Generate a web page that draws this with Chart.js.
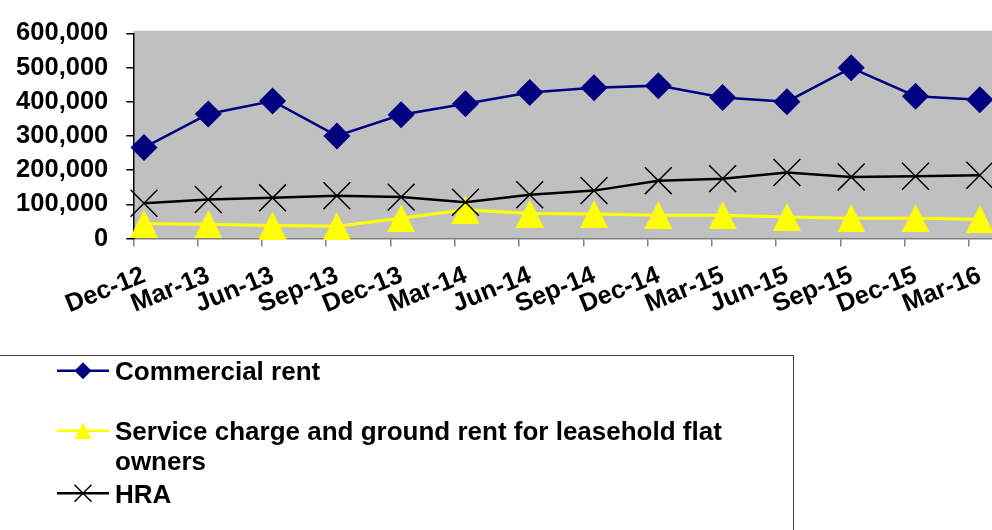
<!DOCTYPE html>
<html>
<head>
<meta charset="utf-8">
<script src="https://cdn.jsdelivr.net/npm/chart.js@4.4.1/dist/chart.umd.min.js"></script>
<style>
  html, body { margin: 0; padding: 0; background: #fff; }
  #wrap { width: 992px; height: 530px; }
</style>
</head>
<body>
<div id="wrap"><canvas id="chart" width="992" height="530"></canvas></div>
<script>
const quarters = ['Dec-12', 'Mar-13', 'Jun-13', 'Sep-13', 'Dec-13', 'Mar-14', 'Jun-14', 'Sep-14', 'Dec-14', 'Mar-15', 'Jun-15', 'Sep-15', 'Dec-15', 'Mar-16'];
const commercialRent = [266000, 364000, 402000, 300000, 362000, 394000, 427000, 441000, 447000, 412000, 400000, 499000, 416000, 406000];
const serviceCharge = [43000, 42000, 38000, 36000, 59000, 84000, 73000, 72000, 68000, 68000, 63000, 59000, 59000, 56000];
const hra = [103000, 114000, 119000, 125000, 121000, 106000, 128000, 140000, 169000, 175000, 193000, 180000, 182000, 185000];
const yTicks = [0, 100000, 200000, 300000, 400000, 500000, 600000];
const seriesNames = ['Commercial rent', 'Service charge and ground rent for leasehold flat owners', 'HRA'];

const FONT = '"Liberation Sans", Arial, sans-serif';
const NAVY = '#000080';
const YELLOW = '#ffff00';
const BLACK = '#000000';

// Excel-ish triangle marker (as wide as it is tall)
function triangleImage(w, h, color) {
  const c = document.createElement('canvas');
  c.width = w; c.height = h;
  const g = c.getContext('2d');
  g.fillStyle = color;
  g.beginPath();
  g.moveTo(w / 2, 0);
  g.lineTo(w, h);
  g.lineTo(0, h);
  g.closePath();
  g.fill();
  return c;
}

// grey plot area
const plotBackground = {
  id: 'plotBackground',
  beforeDraw(chart) {
    const { ctx, chartArea: a } = chart;
    ctx.save();
    ctx.fillStyle = '#c0c0c0';
    ctx.fillRect(a.left, a.top - 2.5, a.right - a.left, a.bottom - a.top + 2.5);
    ctx.restore();
  }
};

function wrapText(ctx, text, maxWidth) {
  const words = text.split(' ');
  const lines = [];
  let line = '';
  words.forEach(w => {
    const test = line ? line + ' ' + w : w;
    if (ctx.measureText(test).width > maxWidth && line) {
      lines.push(line);
      line = w;
    } else {
      line = test;
    }
  });
  if (line) lines.push(line);
  return lines;
}

// boxed legend below the chart, like the Excel one
const boxLegend = {
  id: 'boxLegend',
  afterDraw(chart) {
    const ctx = chart.ctx;
    const rows = [370.7, 430.7, 493.3];
    ctx.save();
    ctx.strokeStyle = '#404040';
    ctx.lineWidth = 1;
    ctx.strokeRect(-1, 355.5, 794.5, 220);

    ctx.font = 'bold 26px ' + FONT;
    ctx.fillStyle = '#000';
    ctx.textBaseline = 'alphabetic';
    chart.data.datasets.forEach((ds, i) => {
      const y = rows[i];
      ctx.strokeStyle = ds.borderColor;
      ctx.lineWidth = 2.5;
      ctx.beginPath();
      ctx.moveTo(57, y);
      ctx.lineTo(109, y);
      ctx.stroke();

      const cx = 83;
      ctx.fillStyle = ds.borderColor;
      if (ds.legendMarker === 'diamond') {
        ctx.beginPath();
        ctx.moveTo(cx, y - 8.5); ctx.lineTo(cx + 8.5, y); ctx.lineTo(cx, y + 8.5); ctx.lineTo(cx - 8.5, y);
        ctx.closePath(); ctx.fill();
      } else if (ds.legendMarker === 'triangle') {
        ctx.drawImage(triangleImage(17, 17, ds.borderColor), cx - 8.5, y - 8.5);
      } else {
        ctx.lineWidth = 1.5;
        ctx.beginPath();
        ctx.moveTo(cx - 8.5, y - 8.5); ctx.lineTo(cx + 8.5, y + 8.5);
        ctx.moveTo(cx + 8.5, y - 8.5); ctx.lineTo(cx - 8.5, y + 8.5);
        ctx.stroke();
      }

      ctx.fillStyle = '#000';
      wrapText(ctx, ds.label, 675).forEach((ln, k) => {
        ctx.fillText(ln, 115, y + 9.5 + k * 30);
      });
    });
    ctx.restore();
  }
};

new Chart(document.getElementById('chart'), {
  type: 'line',
  data: {
    datasets: [
      {
        label: seriesNames[0],
        data: commercialRent.map((v, i) => ({ x: i, y: v })),
        borderColor: NAVY, backgroundColor: NAVY, borderWidth: 2.5,
        pointStyle: 'rectRot', pointRadius: 13.5, pointBorderWidth: 0,
        pointBackgroundColor: NAVY, legendMarker: 'diamond', order: 2
      },
      {
        label: seriesNames[1],
        data: serviceCharge.map((v, i) => ({ x: i, y: v })),
        borderColor: YELLOW, backgroundColor: YELLOW, borderWidth: 3,
        pointStyle: triangleImage(28, 28, YELLOW), pointRadius: 14,
        legendMarker: 'triangle', order: 1
      },
      {
        label: seriesNames[2],
        data: hra.map((v, i) => ({ x: i, y: v })),
        borderColor: BLACK, backgroundColor: BLACK, borderWidth: 2.5,
        pointStyle: 'crossRot', pointRadius: 19, pointBorderWidth: 1.5,
        pointBorderColor: BLACK, legendMarker: 'cross', order: 0
      }
    ]
  },
  options: {
    responsive: false,
    animation: false,
    devicePixelRatio: 1,
    clip: false,
    layout: { autoPadding: false, padding: { top: 30, right: 0, bottom: 0, left: 0 } },
    plugins: { legend: { display: false }, tooltip: { enabled: false } },
    elements: { line: { tension: 0 } },
    scales: {
      x: {
        type: 'linear',
        min: -0.166,
        max: 13.19,
        afterBuildTicks: s => { s.ticks = quarters.map((q, i) => ({ value: i - 0.166 })); },
        afterFit: s => { s.height = 530 - 238.5; s.paddingLeft = 0; s.paddingRight = 0; },
        ticks: {
          autoSkip: false,
          minRotation: 22, maxRotation: 22,
          labelOffset: 11,
          padding: 14,
          color: '#000',
          font: { family: FONT, size: 25.5, weight: 'bold' },
          callback: (v, i) => quarters[i]
        },
        grid: { drawOnChartArea: false, tickLength: 8, color: '#808080', lineWidth: 1.5 },
        border: { color: '#808080', width: 1.5 }
      },
      y: {
        min: 0,
        max: 600000,
        afterBuildTicks: s => { s.ticks = yTicks.map(v => ({ value: v })); },
        afterFit: s => { s.width = 133.3; },
        ticks: {
          padding: 18,
          color: '#000',
          font: { family: FONT, size: 25.5, weight: 'bold' },
          callback: v => v.toLocaleString('en-US')
        },
        grid: { drawOnChartArea: false, tickLength: 7, color: '#000', lineWidth: 1.5 },
        border: { color: '#000', width: 1.5 }
      }
    }
  },
  plugins: [plotBackground, boxLegend]
});
</script>
</body>
</html>
